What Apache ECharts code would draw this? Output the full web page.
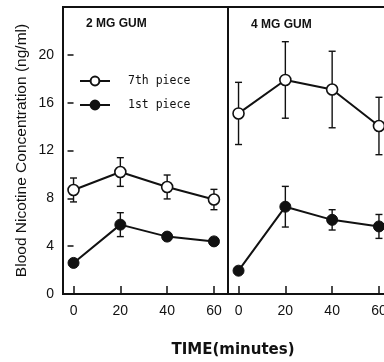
<!DOCTYPE html>
<html>
<head>
<meta charset="utf-8">
<script src="https://cdn.jsdelivr.net/npm/echarts@6/dist/echarts.min.js"></script>
<style>
  html, body { margin: 0; padding: 0; background: #fff; }
  #chart { width: 384px; height: 362px; }
</style>
</head>
<body>
<div id="chart"></div>
<script>
// Sampling times (minutes after start of chewing)
const minutes = [0, 20, 40, 60];
const timeTicks = [0, 20, 40, 60];
const concTicks = [0, 4, 8, 12, 16, 20];

// 2 mg gum: mean blood nicotine (ng/ml) and error (+/-)
const gum2Seventh = [8.7, 10.2, 8.95, 7.9];
const gum2SeventhErr = [1.0, 1.2, 1.0, 0.85];
const gum2First = [2.6, 5.8, 4.8, 4.4];
const gum2FirstErr = [0.3, 1.0, 0.3, 0.3];

// 4 mg gum
const gum4Seventh = [15.1, 17.9, 17.1, 14.05];
const gum4SeventhErr = [2.6, 3.2, 3.2, 2.4];
const gum4First = [1.95, 7.3, 6.2, 5.65];
const gum4FirstErr = [0.3, 1.7, 0.85, 1.0];

const INK = '#111';
const LABEL_FONT = '"Liberation Sans", Arial, sans-serif';

function points(ys) { return minutes.map((m, i) => [m, ys[i]]); }
function errPoints(ys, es) { return minutes.map((m, i) => [m, ys[i], es[i]]); }

function errorBars(gridIndex, ys, es) {
  return {
    type: 'custom',
    xAxisIndex: gridIndex,
    yAxisIndex: gridIndex,
    z: 1,
    silent: true,
    data: errPoints(ys, es),
    renderItem(params, api) {
      const x = api.value(0), y = api.value(1), e = api.value(2);
      const hi = api.coord([x, y + e]);
      const lo = api.coord([x, y - e]);
      const cap = 3.5;
      const style = { stroke: INK, lineWidth: 1.4, fill: null };
      return {
        type: 'group',
        children: [
          { type: 'line', shape: { x1: hi[0], y1: hi[1], x2: lo[0], y2: lo[1] }, style },
          { type: 'line', shape: { x1: hi[0] - cap, y1: hi[1], x2: hi[0] + cap, y2: hi[1] }, style },
          { type: 'line', shape: { x1: lo[0] - cap, y1: lo[1], x2: lo[0] + cap, y2: lo[1] }, style }
        ]
      };
    }
  };
}

function meanLine(gridIndex, name, ys, open) {
  return {
    type: 'line',
    name,
    xAxisIndex: gridIndex,
    yAxisIndex: gridIndex,
    z: 3,
    data: points(ys),
    symbol: 'circle',
    symbolSize: 11,
    lineStyle: { color: INK, width: 2 },
    itemStyle: open
      ? { color: '#fff', borderColor: INK, borderWidth: 1.6 }
      : { color: INK, borderColor: INK, borderWidth: 1 },
    emphasis: { disabled: true },
    animation: false
  };
}

function xAxisFor(gridIndex) {
  return {
    type: 'value',
    gridIndex,
    min: -4.5,
    max: 66,
    axisLine: { show: false },
    splitLine: { show: false },
    axisTick: {
      show: true, inside: true, length: 8,
      customValues: timeTicks,
      lineStyle: { color: INK, width: 1.5 }
    },
    axisLabel: {
      customValues: timeTicks,
      margin: 10,
      color: INK,
      fontFamily: LABEL_FONT,
      fontSize: 14
    }
  };
}

function panelGrid(left) {
  return {
    left, top: 7, width: 165, height: 287,
    show: true, borderColor: INK, borderWidth: 2,
    containLabel: false,
    outerBoundsMode: 'none'
  };
}

const chart = echarts.init(document.getElementById('chart'), null, { renderer: 'canvas' });

chart.setOption({
  animation: false,
  backgroundColor: '#fff',
  grid: [panelGrid(63), panelGrid(228)],
  xAxis: [xAxisFor(0), xAxisFor(1)],
  yAxis: [
    {
      type: 'value',
      gridIndex: 0,
      min: 0,
      max: 24,
      name: 'Blood Nicotine Concentration (ng/ml)',
      nameLocation: 'middle',
      nameGap: 33,
      nameTextStyle: { color: INK, fontFamily: LABEL_FONT, fontSize: 15.5 },
      axisLine: { show: false },
      splitLine: { show: false },
      axisTick: {
        show: true, inside: false, length: 6,
        customValues: concTicks,
        lineStyle: { color: INK, width: 1.5 }
      },
      axisLabel: {
        customValues: concTicks,
        margin: 9,
        color: INK,
        fontFamily: LABEL_FONT,
        fontSize: 14
      }
    },
    {
      type: 'value',
      gridIndex: 1,
      min: 0,
      max: 24,
      axisLine: { show: false },
      axisTick: { show: false },
      axisLabel: { show: false },
      splitLine: { show: false }
    }
  ],
  legend: {
    data: ['7th piece', '1st piece'],
    orient: 'vertical',
    left: 79,
    top: 75,
    padding: 0,
    itemWidth: 30,
    itemHeight: 11,
    itemGap: 12,
    selectedMode: false,
    textStyle: {
      color: INK,
      fontFamily: '"DejaVu Sans Mono", monospace',
      fontSize: 11.5,
      padding: [0, 0, 0, 13]
    }
  },
  graphic: [
    {
      type: 'text', left: 86, top: 18,
      style: { text: '2 MG GUM', fill: INK, font: 'bold 12px "Liberation Sans", Arial, sans-serif' }
    },
    {
      type: 'text', left: 251, top: 19,
      style: { text: '4 MG GUM', fill: INK, font: 'bold 12px "Liberation Sans", Arial, sans-serif' }
    },
    {
      type: 'text', x: 233, y: 350,
      style: {
        text: 'TIME(minutes)', fill: INK,
        font: 'bold 15px "DejaVu Sans", sans-serif',
        textAlign: 'center', textVerticalAlign: 'middle'
      }
    }
  ],
  series: [
    errorBars(0, gum2Seventh, gum2SeventhErr),
    errorBars(0, gum2First, gum2FirstErr),
    meanLine(0, '7th piece', gum2Seventh, true),
    meanLine(0, '1st piece', gum2First, false),
    errorBars(1, gum4Seventh, gum4SeventhErr),
    errorBars(1, gum4First, gum4FirstErr),
    meanLine(1, '7th piece', gum4Seventh, true),
    meanLine(1, '1st piece', gum4First, false)
  ]
});
</script>
</body>
</html>
